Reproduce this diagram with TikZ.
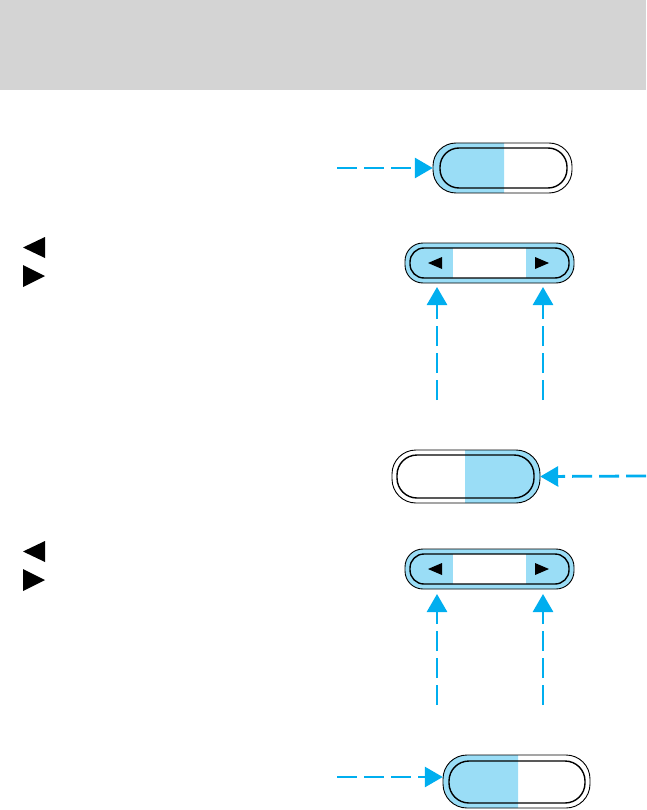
\documentclass[tikz,border=0pt]{standalone}
\usetikzlibrary{arrows.meta}
\definecolor{hdrgray}{HTML}{D4D4D4}
\definecolor{pillblue}{HTML}{9ADDF6}
\definecolor{arrblue}{HTML}{00AEEF}
\tikzset{
  arr/.style={draw=arrblue, line width=2.8pt, dash pattern=on 20pt off 7pt,
    -{Triangle[length=18pt,width=20pt,fill=arrblue]}},
  rimline/.style={draw=black, line width=0.9pt},
  innerline/.style={draw=black, line width=1.4pt},
  btnbox/.style={draw=none, inner sep=0pt, minimum width=#1},
  btnbox/.default={10pt},
  tri/.style={fill=black}
}
\begin{document}
\begin{tikzpicture}[x=1pt,y=-1pt]
\useasboundingbox (0,0) rectangle (646,810);
% header
\fill[hdrgray] (0,0) rectangle (646,90);

% ---------- Button 1 (left half blue) ----------
\node[btnbox=139pt, minimum height=50pt] (b1) at (502.5,168) {};
\begin{scope}
  \clip (433,140) rectangle (504,196);
  \fill[pillblue, rounded corners=23pt] (433,143) rectangle (572,193);
\end{scope}
\draw[rimline, rounded corners=23pt] (433,143) rectangle (572,193);
\draw[innerline, rounded corners=19pt] (440,148) rectangle (567,188);
\coordinate (s1) at (337,168);
\draw[arr] (s1) -- (b1.west);

% ---------- Button 2 (arrows) ----------
\node[btnbox=169pt, minimum height=40pt] (b2) at (489.5,263) {};
\fill[pillblue, rounded corners=18pt] (405,243) rectangle (574,283);
\begin{scope}
  \clip[rounded corners=14pt] (410,248) rectangle (569,278);
  \fill[white] (453,240) rectangle (526,290);
\end{scope}
\draw[rimline, rounded corners=18pt] (405,243) rectangle (574,283);
\draw[innerline, rounded corners=14pt] (410,248) rectangle (569,278);
\fill[tri] (428,263) -- (442,257) -- (442,269) -- cycle;
\fill[tri] (549,263) -- (535,257) -- (535,269) -- cycle;
\coordinate (u1) at (437,400);
\coordinate (t1) at (437,287);
\coordinate (u2) at (543,400);
\coordinate (t2) at (543,287);
\draw[arr] (u1) -- (t1);
\draw[arr] (u2) -- (t2);

% left side triangles 1
\fill[tri] (23,247.5) -- (45,237) -- (45,258) -- cycle;
\fill[tri] (45,276) -- (23,265) -- (23,287) -- cycle;

% ---------- Button 3 (right half blue) ----------
\node[btnbox=148pt, minimum height=53pt] (b3) at (466,476.5) {};
\begin{scope}
  \clip (465,445) rectangle (545,508);
  \fill[pillblue, rounded corners=24pt] (392,450) rectangle (540,503);
\end{scope}
\draw[rimline, rounded corners=24pt] (392,450) rectangle (540,503);
\draw[innerline, rounded corners=20pt] (397,455) rectangle (534,498);
\coordinate (s3) at (646,476);
\draw[arr] (s3) -- (b3.east);

% ---------- Button 4 (arrows) ----------
\node[btnbox=169pt, minimum height=40pt] (b4) at (489.5,569) {};
\fill[pillblue, rounded corners=18pt] (405,549) rectangle (574,589);
\begin{scope}
  \clip[rounded corners=14pt] (410,554) rectangle (569,584);
  \fill[white] (453,545) rectangle (526,595);
\end{scope}
\draw[rimline, rounded corners=18pt] (405,549) rectangle (574,589);
\draw[innerline, rounded corners=14pt] (410,554) rectangle (569,584);
\fill[tri] (428,569) -- (442,563) -- (442,575) -- cycle;
\fill[tri] (549,569) -- (535,563) -- (535,575) -- cycle;
\coordinate (u3) at (437,705);
\coordinate (t3) at (437,594);
\coordinate (u4) at (543,705);
\coordinate (t4) at (543,594);
\draw[arr] (u3) -- (t3);
\draw[arr] (u4) -- (t4);

% left side triangles 2
\fill[tri] (23,551.5) -- (45,541) -- (45,562) -- cycle;
\fill[tri] (45,580) -- (23,569) -- (23,591) -- cycle;

% ---------- Button 5 (left half blue) ----------
\node[btnbox=147pt, minimum height=53pt] (b5) at (516.5,781.5) {};
\begin{scope}
  \clip (440,750) rectangle (518,812);
  \fill[pillblue, rounded corners=24pt] (443,755) rectangle (590,808);
\end{scope}
\draw[rimline, rounded corners=24pt] (443,755) rectangle (590,808);
\draw[innerline, rounded corners=20pt] (449,761) rectangle (585,803);
\coordinate (s5) at (337,777);
\draw[arr] (s5) -- (b5.west |- s5);
\end{tikzpicture}
\end{document}
